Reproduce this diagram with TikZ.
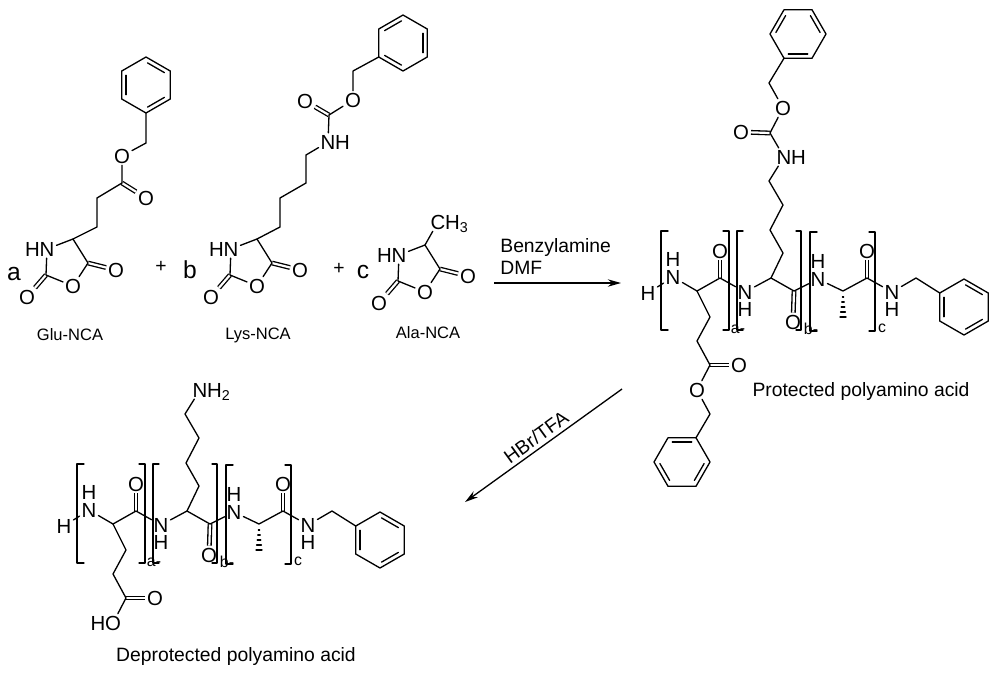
\documentclass[tikz,border=0pt]{standalone}
\usepackage{fontspec}
\setmainfont{Liberation Sans}
\usepackage{tikz}
\usetikzlibrary{positioning, arrows.meta, calc}

\begin{document}
\begin{tikzpicture}[
    x=0.02cm, y=-0.02cm,
    bond/.style={line width=0.75pt, line cap=round, line join=round},
    dbond/.style={line width=0.75pt, double, double distance=1.25pt},
    atomnode/.style={inner sep=1pt, font=\fontsize{11.6}{11.6}\selectfont},
    textnode/.style={inner sep=0pt, font=\fontsize{9.4}{10}\selectfont},
    captionnode/.style={inner sep=0pt, font=\fontsize{11}{12}\selectfont},
    letternode/.style={inner sep=0pt, font=\fontsize{14}{14}\selectfont},
    plusnode/.style={inner sep=0pt, font=\fontsize{11}{11}\selectfont},
    repeatnode/.style={inner sep=0pt, font=\fontsize{9}{9}\selectfont},
    reaction/.style={line width=0.75pt, -{Stealth[length=7.5pt, width=4.2pt]}},
    phenyl/.pic={
        \foreach \k in {0,...,5}{
            \coordinate (-v\k) at (#1+\k*60:28);
        }
        \draw[bond] (-v0) -- (-v1) -- (-v2) -- (-v3) -- (-v4) -- (-v5) -- cycle;
        \foreach \k in {0,2,4}{
            \draw[bond, shorten >=1pt, shorten <=1pt] (#1+\k*60:23) -- (#1+\k*60+60:23);
        }
    },
    nca/.pic={
        \node[atomnode](-n) at (47,249){N};
        \node[atomnode](-h)[left = -2.5pt of -n]{H};
        \coordinate (-ca) at (73,239);
        \coordinate (-cf) at (88,263);
        \node[atomnode](-of) at (116,270){O};
        \node[atomnode](-or) at (73,286){O};
        \coordinate (-cb) at (46,275);
        \node[atomnode](-ob) at (27,297){O};
        \draw[dbond] (-cf) -- (-of);
        \draw[dbond] (-cb) -- (-ob);
        \draw[bond] (-n) -- (-ca) -- (-cf) -- (-or) -- (-cb) -- (-n);
    },
    chain/.pic={
        \node[atomnode](-ht) at (648,293){H};
        \node[atomnode](-n1) at (673,277){N};
        \node[atomnode](-h1)[above = -0.5pt of -n1]{H};
        \coordinate (-a1) at (697,291);
        \coordinate (-c1) at (720,278);
        \node[atomnode](-o1) at (720,251){O};
        \node[atomnode](-n2) at (745,292){N};
        \node[atomnode](-h2)[below = -0.5pt of -n2]{H};
        \coordinate (-a2) at (771,278);
        \coordinate (-c2) at (794,291);
        \node[atomnode](-o2) at (793,322){O};
        \node[atomnode](-n3) at (818,279){N};
        \node[atomnode](-h3)[above = -0.5pt of -n3]{H};
        \coordinate (-a3) at (843,291);
        \coordinate (-c3) at (867,278);
        \node[atomnode](-o3) at (867,251){O};
        \node[atomnode](-n4) at (892,292){N};
        \node[atomnode](-h4)[below = -0.5pt of -n4]{H};
        \coordinate (-ch) at (916,278);
        \pic (-ring) at (964,307) {phenyl=-90};
        \coordinate (-g1) at (710,317);
        \coordinate (-g2) at (697,341);
        \coordinate (-g3) at (710,365);
        \node[atomnode](-gd) at (739,365){O};
        \node[atomnode](-gs) at (697,390){O};
        \coordinate (-l1) at (783,253);
        \coordinate (-l2) at (770,230);
        \coordinate (-l3) at (783,205);
        \coordinate (-l4) at (769,181);
        \node[atomnode](-ln) at (784,157){N};
        \draw[dbond] (-c1) -- (-o1);
        \draw[dbond] (-c2) -- (-o2);
        \draw[dbond] (-c3) -- (-o3);
        \draw[dbond] (-g3) -- (-gd);
        \draw[bond] (-ht) -- (-n1) -- (-a1) -- (-c1) -- (-n2) -- (-a2) -- (-c2) -- (-n3) -- (-a3) -- (-c3) -- (-n4) -- (-ch) -- (-ring-v5);
        \draw[bond] (-a1) -- (-g1) -- (-g2) -- (-g3) -- (-gs);
        \draw[bond] (-a2) -- (-l1) -- (-l2) -- (-l3) -- (-l4) -- (-ln);
        \foreach \y/\w in {297/0.6, 302/1.2, 307/1.8, 312/2.4, 317/3}{
            \draw[bond] (843-\w,\y) -- (843+\w,\y);
        }
        \draw[bond] (668,231) -- (661,231) -- (661,330) -- (668,330);
        \draw[bond] (723,231) -- (729,231) -- (729,330) -- (723,330);
        \draw[bond] (743,231) -- (737,231) -- (737,330) -- (743,330);
        \draw[bond] (796,231) -- (801,231) -- (801,330) -- (796,330);
        \draw[bond] (817,232) -- (810,232) -- (810,331) -- (817,331);
        \draw[bond] (869,232) -- (875,232) -- (875,331) -- (869,331);
        \node[repeatnode](-la) at (738,329){a-};
        \node[repeatnode](-lb) at (811,329){b-};
        \node[repeatnode](-lc) at (882,328){c};
    },
]
\useasboundingbox (0,0) rectangle (1000,674);

\pic (glu) at (0,0) {nca};
\pic (lys) at (184,0) {nca};
\pic (ala) at (352,6) {nca};

\coordinate (gluc1) at (97,227);
\coordinate (gluc2) at (97,198);
\coordinate (gluc3) at (122,183);
\node[atomnode](glud) at (146,198){O};
\node[atomnode](glus) at (122,156){O};
\coordinate (gluch) at (146,143);
\pic (glur) at (146,85) {phenyl=-90};
\draw[dbond] (gluc3) -- (glud);
\draw[bond] (glu-ca) -- (gluc1) -- (gluc2) -- (gluc3) -- (glus) -- (gluch) -- (glur-v3);

\coordinate (lysc1) at (280,227);
\coordinate (lysc2) at (280,198);
\coordinate (lysc3) at (306,183);
\coordinate (lysc4) at (306,155);
\node[atomnode](lysn) at (328,142){N};
\node[atomnode](lysh)[right = -2.5pt of lysn]{H};
\coordinate (lysc) at (329,115);
\node[atomnode](lysd) at (305,101){O};
\node[atomnode](lyss) at (353,100){O};
\coordinate (lysch) at (353,71);
\pic (lysr) at (403,43) {phenyl=-30};
\draw[dbond] (lysc) -- (lysd);
\draw[bond] (lys-ca) -- (lysc1) -- (lysc2) -- (lysc3) -- (lysc4) -- (lysn) -- (lysc) -- (lyss) -- (lysch) -- (lysr-v3);

\node[atomnode](alac) at (438,222){C};
\node[atomnode,base right = -2.5pt of alac](alah){H\textsubscript{3}};
\draw[bond] (ala-ca) -- (alac);

\node[letternode](la) at (14,274){a};
\node[letternode](lb) at (190,270){b};
\node[letternode](lc) at (363,272){c};
\node[plusnode](pl1) at (161,267){+};
\node[plusnode](pl2) at (339,269){+};
\node[textnode](glucap) at (70,335){Glu-NCA};
\node[textnode](lyscap) at (258,335){Lys-NCA};
\node[textnode](alacap) at (428,333){Ala-NCA};

\coordinate (arrow1a) at (494,283);
\coordinate (arrow1b) at (621,283);
\draw[reaction] (arrow1a) -- (arrow1b);
\node[captionnode,anchor=west](cond1) at (500,247){Benzylamine};
\node[captionnode,anchor=west](cond2) at (500,268){DMF};

\pic (prot) at (0,0) {chain};
\node[atomnode](proth)[right = -2.5pt of prot-ln]{H};
\coordinate (protc) at (770,133);
\node[atomnode](protd) at (741,132){O};
\node[atomnode](prots) at (783,108){O};
\coordinate (protch) at (769,83);
\pic (protr) at (798,34) {phenyl=-60};
\draw[dbond] (protc) -- (protd);
\draw[bond] (prot-ln) -- (protc) -- (prots) -- (protch) -- (protr-v3);
\coordinate (protgc) at (710,414);
\pic (protq) at (682,462) {phenyl=-120};
\draw[bond] (prot-gs) -- (protgc) -- (protq-v1);
\node[captionnode](protcap) at (861,391){Protected polyamino acid};

\coordinate (arrow2a) at (622,389);
\coordinate (arrow2b) at (465,502);
\draw[reaction] (arrow2a) -- (arrow2b);
\node[captionnode,rotate=36](cond3) at (536,437){HBr/TFA};

\pic (dep) at (-584,233) {chain};
\node[atomnode,base right = -2.5pt of dep-ln](deph){H\textsubscript{2}};
\node[atomnode](depho)[left = -2.5pt of dep-gs]{H};
\node[captionnode](depcap) at (236,656){Deprotected polyamino acid};
\end{tikzpicture}
\end{document}
